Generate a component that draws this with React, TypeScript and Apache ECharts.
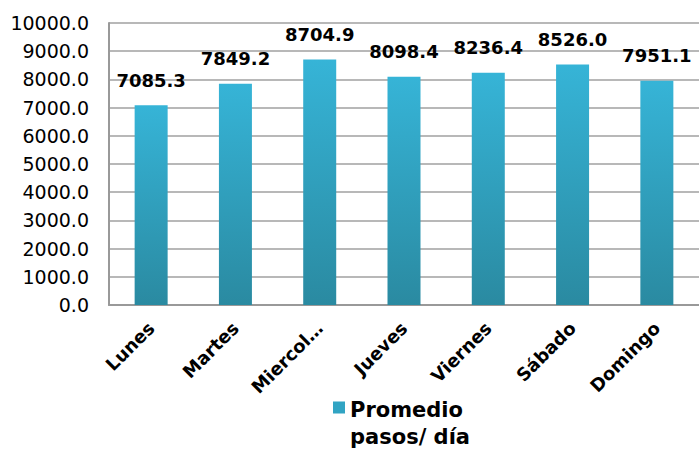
import React, { useEffect, useRef } from "react";
import * as echarts from "echarts";

const categories = ["Lunes", "Martes", "Miercol…", "Jueves", "Viernes", "Sábado", "Domingo"];
const values = [7085.3, 7849.2, 8704.9, 8098.4, 8236.4, 8526.0, 7951.1];
const seriesName = "Promedio\npasos/ día";

export default function App() {
  const ref = useRef<HTMLDivElement>(null);
  useEffect(() => {
    if (!ref.current) return;
    const chart = echarts.init(ref.current, undefined, { renderer: "svg" });
    const font = "DejaVu Sans, Liberation Sans, Arial, sans-serif";
    chart.setOption({
      animation: false,
      backgroundColor: "#ffffff",
      textStyle: { fontFamily: font },
      grid: { left: 109, top: 23, width: 595, bottom: 144, containLabel: false },
      legend: {
        data: [seriesName],
        left: 328,
        top: 391,
        itemWidth: 12,
        itemHeight: 54,
        icon: "path://M0,11H12V23H0Z M0,54h0.01v0.01Z",
        itemStyle: { color: "#31a4c3" },
        textStyle: { fontFamily: font, fontSize: 21, fontWeight: "bold", color: "#000", lineHeight: 27 },
      },
      xAxis: {
        type: "category",
        data: categories,
        axisLine: { lineStyle: { color: "#999999", width: 2 } },
        axisTick: { show: false },
        axisLabel: {
          rotate: 45,
          interval: 0,
          fontFamily: font,
          fontSize: 18,
          fontWeight: "bold",
          color: "#000",
          margin: 20,
        },
      },
      yAxis: {
        type: "value",
        min: 0,
        max: 10000,
        interval: 1000,
        axisLine: { show: true, lineStyle: { color: "#999999", width: 2 } },
        axisTick: { show: false },
        splitLine: { lineStyle: { color: "#a0a0a0", width: 1.5 } },
        axisLabel: {
          fontFamily: font,
          fontSize: 19,
          color: "#000",
          margin: 20,
          formatter: (v: number) => v.toFixed(1),
        },
      },
      series: [
        {
          name: seriesName,
          type: "bar",
          data: values,
          barWidth: 33,
          itemStyle: {
            color: new echarts.graphic.LinearGradient(0, 0, 0, 1, [
              { offset: 0, color: "#36b4d7" },
              { offset: 1, color: "#2a8aa1" },
            ]),
          },
          label: {
            show: true,
            position: "top",
            distance: 16,
            fontFamily: font,
            fontSize: 18,
            fontWeight: "bold",
            color: "#000",
            formatter: (p: any) => Number(p.value).toFixed(1),
          },
        },
      ],
    });
    return () => chart.dispose();
  }, []);
  return <div ref={ref} style={{ width: 699, height: 449, position: "absolute", left: 0, top: 0 }} />;
}
